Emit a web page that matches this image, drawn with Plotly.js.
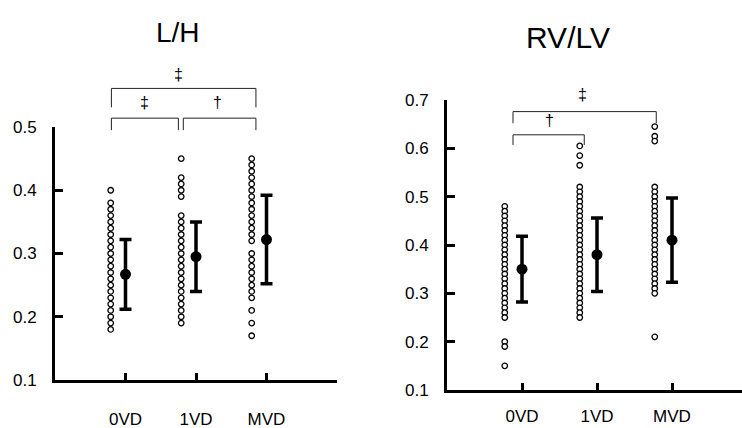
<!DOCTYPE html>
<html><head><meta charset="utf-8">
<script src="https://cdn.plot.ly/plotly-3.0.1.min.js"></script>
<style>html,body{margin:0;padding:0;background:#fff}#chart{width:742px;height:428px}</style>
</head><body><div id="chart"></div>
<script>
// ---- data ----
const groups = ['0VD', '1VD', 'MVD'];
const groupPos = [1, 2, 3];

// L/H individual values
const lh0VD = [0.40, 0.38, 0.37, 0.36, 0.35, 0.34, 0.33, 0.32, 0.31, 0.30, 0.29, 0.28, 0.27, 0.26, 0.25, 0.24, 0.23, 0.22, 0.21, 0.20, 0.19, 0.18];
const lh1VD = [0.45, 0.42, 0.41, 0.40, 0.39, 0.36, 0.35, 0.34, 0.33, 0.32, 0.31, 0.30, 0.29, 0.28, 0.27, 0.26, 0.25, 0.24, 0.23, 0.22, 0.21, 0.20, 0.19];
const lhMVD = [0.45, 0.44, 0.43, 0.42, 0.41, 0.40, 0.39, 0.38, 0.37, 0.36, 0.35, 0.34, 0.33, 0.32, 0.30, 0.29, 0.28, 0.27, 0.26, 0.25, 0.24, 0.23, 0.21, 0.19, 0.17];
const lhMean = [0.267, 0.295, 0.322];
const lhSD = [0.055, 0.055, 0.070];
const lhTickVals = [0.1, 0.2, 0.3, 0.4, 0.5];
const lhTickText = ['0.1', '0.2', '0.3', '0.4', '0.5'];

// RV/LV individual values
const rv0VD = [0.48, 0.47, 0.46, 0.45, 0.44, 0.43, 0.42, 0.41, 0.40, 0.39, 0.38, 0.37, 0.36, 0.35, 0.34, 0.33, 0.32, 0.31, 0.30, 0.29, 0.28, 0.27, 0.26, 0.25, 0.20, 0.19, 0.15];
const rv1VD = [0.605, 0.585, 0.565, 0.52, 0.51, 0.50, 0.49, 0.48, 0.47, 0.46, 0.45, 0.44, 0.43, 0.42, 0.41, 0.40, 0.39, 0.38, 0.37, 0.36, 0.35, 0.34, 0.33, 0.32, 0.31, 0.30, 0.29, 0.28, 0.27, 0.26, 0.25];
const rvMVD = [0.645, 0.625, 0.615, 0.52, 0.51, 0.50, 0.49, 0.48, 0.47, 0.46, 0.45, 0.44, 0.43, 0.42, 0.41, 0.40, 0.39, 0.38, 0.37, 0.36, 0.35, 0.34, 0.33, 0.32, 0.31, 0.30, 0.21];
const rvMean = [0.350, 0.380, 0.410];
const rvSD = [0.068, 0.076, 0.087];
const rvTickVals = [0.1, 0.2, 0.3, 0.4, 0.5, 0.6, 0.7];
const rvTickText = ['0.1', '0.2', '0.3', '0.4', '0.5', '0.6', '0.7'];

// significance brackets (x in category units, y in axis units)
const lhBrackets = [
  {x0: 0.80, x1: 1.75, y: 0.514, leg: 0.495, label: '‡', lx: 1.27, ly: 0.538},
  {x0: 1.82, x1: 2.85, y: 0.514, leg: 0.495, label: '†', lx: 2.31, ly: 0.538},
  {x0: 0.80, x1: 2.85, y: 0.561, leg: 0.531, label: '‡', lx: 1.745, ly: 0.583}
];
const rvBrackets = [
  {x0: 0.88, x1: 1.83, y: 0.628, leg: 0.607, label: '†', lx: 1.36, ly: 0.657},
  {x0: 0.88, x1: 2.79, y: 0.676, leg: 0.652, label: '‡', lx: 1.81, ly: 0.711}
];

// ---- layout geometry ----
const FONT = 'Liberation Sans, Arial, sans-serif';
const W = 742, H = 428;
const dotOffset = [-0.21, -0.23];

function baseX(domain, range, ticks, texts, standoff) {
  return {domain: domain, range: range, tickvals: ticks, ticktext: texts,
    ticks: 'inside', ticklen: 7, tickwidth: 3, tickcolor: '#000',
    showline: true, linewidth: 3, linecolor: '#000', showgrid: false, zeroline: false,
    tickfont: {family: FONT, size: 17, color: '#000'}, ticklabelstandoff: standoff, fixedrange: true};
}
function baseY(domain, range, ticks, texts, anchor) {
  return {domain: domain, range: range, tickvals: ticks, ticktext: texts, anchor: anchor,
    ticks: 'inside', ticklen: 8, tickwidth: 3, tickcolor: '#000',
    showline: true, linewidth: 3, linecolor: '#000', showgrid: false, zeroline: false,
    tickfont: {family: FONT, size: 17, color: '#000'}, ticklabelstandoff: 12, fixedrange: true};
}

const xa1 = baseX([55 / W, 337 / W], [0, 4], [1, 2, 3, 4], groups.concat(['']), 22);
const ya1 = baseY([48 / H, 301 / H], [0.1, 0.5], lhTickVals, lhTickText, 'x');
const xa2 = baseX([447 / W, 1], [0, 295 / 75], groupPos, groups, 9);
xa2.anchor = 'y2';
const ya2 = baseY([38 / H, 328 / H], [0.1, 0.7], rvTickVals, rvTickText, 'x2');

function px(ax, v) { return ax.domain[0] + (v - ax.range[0]) / (ax.range[1] - ax.range[0]) * (ax.domain[1] - ax.domain[0]); }

const traces = [];
function addPanel(sets, means, sds, xaName, yaName, off) {
  sets.forEach((vals, i) => {
    traces.push({type: 'scatter', mode: 'markers', xaxis: xaName, yaxis: yaName,
      x: vals.map(() => groupPos[i] + off), y: vals, cliponaxis: false, hoverinfo: 'y',
      marker: {symbol: 'circle', size: 5.5, color: '#fff', line: {color: '#000', width: 1.3}}, showlegend: false});
  });
  traces.push({type: 'scatter', mode: 'markers', xaxis: xaName, yaxis: yaName,
    x: groupPos, y: means, cliponaxis: false, showlegend: false,
    marker: {size: 11, color: '#000'},
    error_y: {type: 'data', array: sds, visible: true, color: '#000', thickness: 3.5, width: 6}});
}
addPanel([lh0VD, lh1VD, lhMVD], lhMean, lhSD, 'x', 'y', dotOffset[0]);
addPanel([rv0VD, rv1VD, rvMVD], rvMean, rvSD, 'x2', 'y2', dotOffset[1]);

const shapes = [], annotations = [];
function addBrackets(list, xa, ya) {
  list.forEach(b => {
    const X0 = px(xa, b.x0), X1 = px(xa, b.x1), Y = px(ya, b.y), L = px(ya, b.leg);
    shapes.push({type: 'path', xref: 'paper', yref: 'paper',
      path: `M${X0},${L} L${X0},${Y} L${X1},${Y} L${X1},${L}`,
      line: {color: '#222', width: 1}});
    annotations.push({xref: 'paper', yref: 'paper', x: px(xa, b.lx), y: px(ya, b.ly),
      xanchor: 'center', yanchor: 'middle', showarrow: false, text: b.label,
      font: {family: FONT, size: 16, color: '#000'}});
  });
}
addBrackets(lhBrackets, xa1, ya1);
addBrackets(rvBrackets, xa2, ya2);

annotations.push({xref: 'paper', yref: 'paper', x: 178 / W, y: (H - 32) / H, xanchor: 'center', yanchor: 'middle',
  showarrow: false, text: 'L/H', font: {family: FONT, size: 28, color: '#000'}});
annotations.push({xref: 'paper', yref: 'paper', x: 568 / W, y: (H - 37) / H, xanchor: 'center', yanchor: 'middle',
  showarrow: false, text: 'RV/LV', font: {family: FONT, size: 30, color: '#000'}});

const layout = {width: W, height: H, margin: {l: 0, r: 0, t: 0, b: 0},
  paper_bgcolor: '#fff', plot_bgcolor: 'rgba(0,0,0,0)', showlegend: false,
  xaxis: xa1, yaxis: ya1, xaxis2: xa2, yaxis2: ya2, shapes: shapes, annotations: annotations,
  font: {family: FONT, color: '#000'}};

Plotly.newPlot('chart', traces, layout, {staticPlot: true, displayModeBar: false});
</script>
</body></html>
